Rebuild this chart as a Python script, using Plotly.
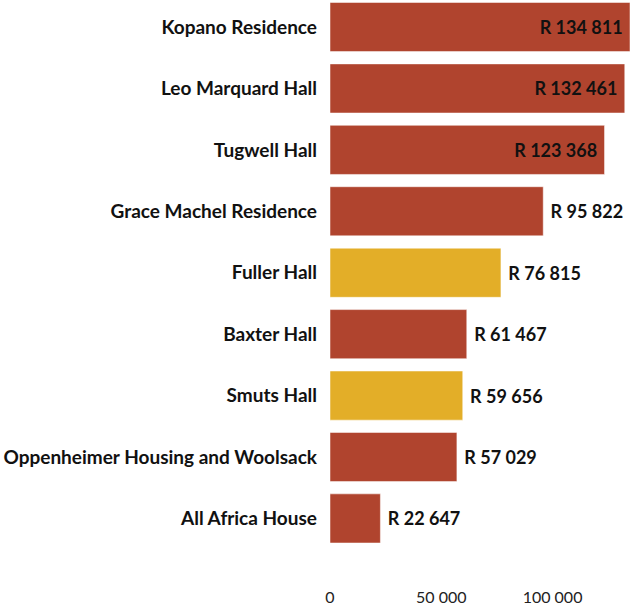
import plotly.graph_objects as go

categories = [
    "Kopano Residence",
    "Leo Marquard Hall",
    "Tugwell Hall",
    "Grace Machel Residence",
    "Fuller Hall",
    "Baxter Hall",
    "Smuts Hall",
    "Oppenheimer Housing and Woolsack",
    "All Africa House",
]
values = [134811, 132461, 123368, 95822, 76815, 61467, 59656, 57029, 22647]
highlighted = ["Fuller Hall", "Smuts Hall"]
inside_labels = ["Kopano Residence", "Leo Marquard Hall", "Tugwell Hall"]
x_tick_values = [0, 50000, 100000]
x_tick_labels = ["0", "50 000", "100 000"]

RED = "#b0442e"
GOLD = "#e3ae28"
NBSP = "\u00a0"

colors = [GOLD if c in highlighted else RED for c in categories]
base_texts = ["R " + f"{v:,}".replace(",", " ") for v in values]
texts = [
    (t + NBSP) if c in inside_labels else (NBSP + t)
    for c, t in zip(categories, base_texts)
]
positions = ["inside" if c in inside_labels else "outside" for c in categories]

fig = go.Figure(
    go.Bar(
        x=values,
        y=categories,
        orientation="h",
        marker=dict(color=colors, line=dict(color="rgba(255,255,255,0.5)", width=1)),
        text=texts,
        textposition=positions,
        insidetextanchor="end",
        textfont=dict(family="Lato", size=18, color="#111111", weight="bold"),
        cliponaxis=False,
        hoverinfo="skip",
    )
)

fig.update_layout(
    width=630,
    height=610,
    margin=dict(l=330, r=0, t=0, b=24),
    paper_bgcolor="white",
    plot_bgcolor="white",
    bargap=0.2,
    showlegend=False,
    font=dict(family="Lato", color="#111111"),
)
fig.update_xaxes(
    range=[0, 134811],
    tickvals=x_tick_values,
    ticktext=x_tick_labels,
    showgrid=False,
    zeroline=False,
    showline=False,
    tickfont=dict(family="Lato", size=16, color="#222222"),
    fixedrange=True,
)
fig.update_yaxes(
    type="category",
    categoryorder="array",
    categoryarray=categories,
    range=[9.10, -0.44],
    showgrid=False,
    zeroline=False,
    showline=False,
    ticklabelstandoff=12,
    tickfont=dict(family="Lato", size=19, color="#111111", weight="bold"),
    fixedrange=True,
)

fig.write_html(
    "out.html",
    config={"displayModeBar": False},
    post_script="document.body.style.margin='0';document.body.style.overflow='hidden';",
)
